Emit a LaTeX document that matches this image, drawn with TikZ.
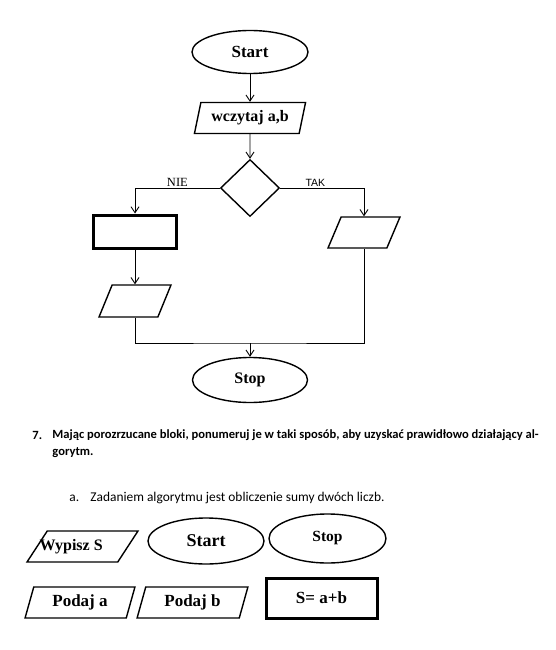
\documentclass[tikz,border=0pt]{standalone}
\usepackage{fontspec}
\setmainfont{Liberation Serif}
\newfontfamily\arialfont{Liberation Sans}
\newfontfamily\calibrifont{Carlito}
\usepackage{tikz}
\usetikzlibrary{arrows.meta,shapes.geometric}

\begin{document}
\begin{tikzpicture}[x=1pt,y=-1pt,->,>={Straight Barb[length=6pt,width=8pt]},line width=0.9pt]

    \tikzstyle{term}=[draw,ellipse,line width=1.4pt,inner sep=0pt,font=\fontsize{17}{20}\selectfont\bfseries]
    \tikzstyle{io}=[draw,trapezium,trapezium left angle=74,trapezium right angle=106,trapezium stretches=true,line width=1.4pt,inner sep=2pt,minimum height=31pt,font=\fontsize{17}{20}\selectfont\bfseries]
    \tikzstyle{proc}=[draw,rectangle,line width=3pt,inner sep=0pt,font=\fontsize{17}{20}\selectfont\bfseries]
    \tikzstyle{cond}=[draw,diamond,line width=1.4pt,inner sep=0pt,minimum width=59pt,minimum height=57pt]
    \tikzstyle{task}=[anchor=west,inner sep=0pt,font=\calibrifont\fontsize{13.4}{15}\selectfont]
    \tikzstyle{taskb}=[task,font=\calibrifont\bfseries\fontsize{12.55}{15}\selectfont]

    \useasboundingbox (0,0) rectangle (555,650);

    % schemat
    \node[term,minimum width=116pt,minimum height=43pt] (start) at (250,52) {Start};
    \node[io,minimum width=112pt,font=\fontsize{16}{19}\selectfont\bfseries] (read) at (250,118) {wczytaj a,b};
    \node[cond] (if) at (250,188) {};
    \node[proc,minimum width=83pt,minimum height=33pt] (box) at (135,231.5) {};
    \node[io,minimum width=72pt,minimum height=32pt] (outL) at (135,301) {};
    \node[io,minimum width=72pt] (outR) at (364,232.5) {};
    \node[term,minimum width=115pt,minimum height=45pt,font=\fontsize{16}{19}\selectfont\bfseries] (stop) at (250,380) {Stop};
    \coordinate (join) at (250,343);

    \path (start) edge (read)
          (read) edge (if)
          (box) edge (outL)
          (join) edge (stop);
    \draw (if.west) -| node[pos=0.25,above,inner sep=1pt,font=\fontsize{12.5}{14}\selectfont] {NIE} (box.north);
    \draw (if.east) -| node[pos=0.21,above,inner sep=1pt,font=\arialfont\fontsize{10.5}{12}\selectfont] {TAK} (outR.north);
    \draw[-] (outL.south) |- (join) -| (outR.south);

    % polecenie
    \node[taskb] (n7) at (32,435) {7.};
    \node[taskb] (q1) at (52,435) {Mając porozrzucane bloki, ponumeruj je w taki sposób, aby uzyskać prawidłowo działający al-};
    \node[taskb] (q2) at (52,453) {gorytm.};
    \node[task] (na) at (69,498) {a.};
    \node[task] (qa) at (90,498) {Zadaniem algorytmu jest obliczenie sumy dwóch liczb.};

    % bloki do ponumerowania
    \node[io,minimum width=111pt,label={[anchor=west,inner sep=0pt,xshift=3pt,font=\fontsize{16}{19}\selectfont\bfseries]west:Wypisz S}] (wyp) at (82.5,546.5) {};
    \node[term,minimum width=116pt,minimum height=46pt,font=\fontsize{18}{21}\selectfont\bfseries] (st2) at (206,541) {Start};
    \node[term,minimum width=117pt,minimum height=49pt,font=\fontsize{15.5}{18}\selectfont\bfseries] (sp2) at (327.5,538.5) {Stop};
    \node[io,minimum width=110pt] (pa) at (80,602.5) {Podaj a};
    \node[io,minimum width=111pt] (pb) at (192.5,602.5) {Podaj b};
    \node[proc,minimum width=111pt,minimum height=40pt] (sum) at (321.5,598) {S= a+b};

\end{tikzpicture}
\end{document}
